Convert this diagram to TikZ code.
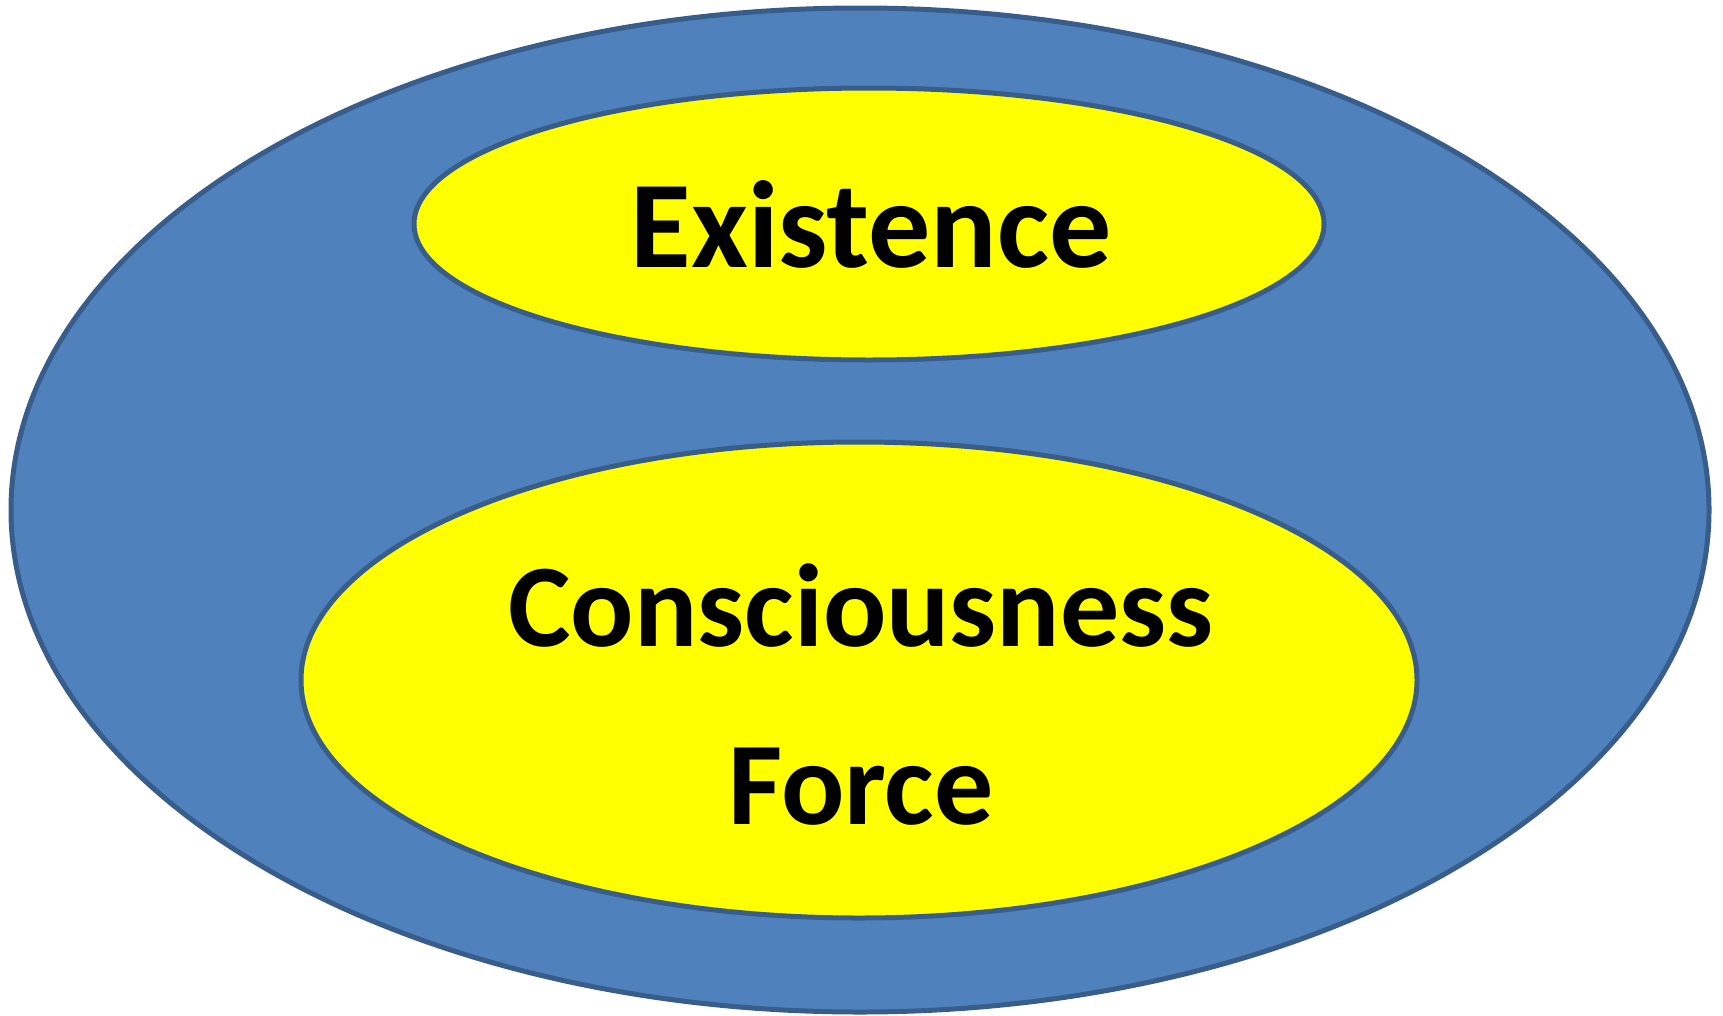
\documentclass[tikz,border=0pt]{standalone}
\usepackage{fontspec}
\setmainfont{Carlito}
\definecolor{bandblue}{HTML}{4F81BD}
\definecolor{edgeblue}{HTML}{385D8A}
\definecolor{coreyellow}{RGB}{255,255,0}
\tikzset{
  blob/.style={draw=edgeblue, line width=5pt},
  word/.style={font=\fontsize{124}{162}\selectfont\bfseries, align=center, inner sep=0pt},
  smallword/.style={word, font=\fontsize{118}{162}\selectfont\bfseries}
}
\begin{document}
\begin{tikzpicture}[x=1pt, y=-1pt]
  \useasboundingbox (0,0) rectangle (1723,1015);

  \draw[blob, fill=bandblue] (860,510) ellipse [x radius=849, y radius=502];
  \draw[blob, fill=coreyellow] (869,224) ellipse [x radius=455, y radius=136];
  \draw[blob, fill=coreyellow] (859,680) ellipse [x radius=558, y radius=238];

  \node[word, anchor=base] (exist) at (871,267) {Existence};
  \node[smallword, anchor=base] (consc) at (861,646) {Consciousness};
  \node[smallword, anchor=base] (force) at (861,824) {Force};
\end{tikzpicture}
\end{document}
